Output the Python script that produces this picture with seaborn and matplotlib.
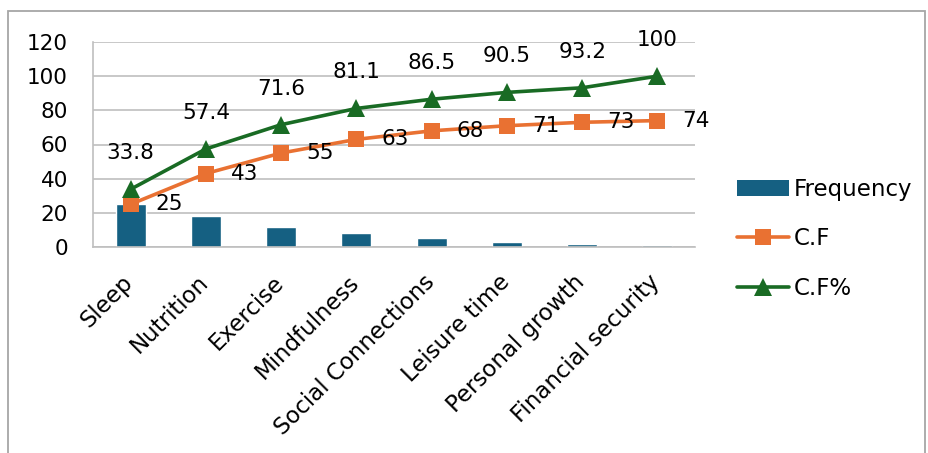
import numpy as np
import pandas as pd
import matplotlib
matplotlib.use("Agg")
import matplotlib.pyplot as plt
from matplotlib.patches import Rectangle, Patch
from matplotlib.lines import Line2D
import seaborn as sns

categories = ["Sleep", "Nutrition", "Exercise", "Mindfulness", "Social Connections",
              "Leisure time", "Personal growth", "Financial security"]
frequency = [25, 18, 12, 8, 5, 3, 2, 1]
cum_freq = [25, 43, 55, 63, 68, 71, 73, 74]
cum_pct = [33.8, 57.4, 71.6, 81.1, 86.5, 90.5, 93.2, 100]
y_ticks = [0, 20, 40, 60, 80, 100, 120]

BLUE = "#156082"
ORANGE = "#E97132"
GREEN = "#196B24"
GRID = "#BFBFBF"

sns.set_theme(style="white")
plt.rcParams["font.family"] = ["DejaVu Sans"]
plt.rcParams["text.color"] = "black"
plt.rcParams["xtick.color"] = "black"
plt.rcParams["ytick.color"] = "black"
FS_NUM = 15.5
FS_CAT = 16.5

W, H = 929, 453
fig = plt.figure(figsize=(W / 100, H / 100), dpi=100)
ax = fig.add_axes([93 / W, (H - 247) / H, (695 - 93) / W, (247 - 42) / H])

df = pd.DataFrame({"category": categories, "Frequency": frequency,
                   "CF": cum_freq, "CFP": cum_pct})
pos = np.arange(len(categories))

sns.barplot(data=df, x="category", y="Frequency", color=BLUE, width=0.4,
            saturation=1, ax=ax, zorder=2)
sns.lineplot(x=pos, y=df["CF"].values, sort=False, color=ORANGE, lw=2.6,
             marker="s", markersize=12, markeredgewidth=0, ax=ax, zorder=3)
sns.lineplot(x=pos, y=df["CFP"].values, sort=False, color=GREEN, lw=2.6,
             marker="^", markersize=13, markeredgewidth=0, ax=ax, zorder=4)

# data labels
for i, v in enumerate(cum_freq):
    ax.annotate(f"{v:g}", (pos[i], v), xytext=(28, 0), textcoords="offset points",
                ha="center", va="center", fontsize=FS_NUM, color="black", zorder=5)
for i, v in enumerate(cum_pct):
    ax.annotate(f"{v:g}", (pos[i], v), xytext=(0, 26), textcoords="offset points",
                ha="center", va="center", fontsize=FS_NUM, color="black", zorder=5,
                annotation_clip=False)

ax.set_ylim(0, 120)
ax.set_xlim(-0.5, len(categories) - 0.5)
ax.set_yticks(y_ticks)
ax.set_yticklabels([str(t) for t in y_ticks], fontsize=FS_NUM, color="black")
ax.yaxis.grid(True, color=GRID, lw=1.2, zorder=0)
ax.set_axisbelow(True)
ax.set_xlabel("")
ax.set_ylabel("")

# category labels, rotated, hanging just left of each category centre
ax.set_xticks(pos)
ax.set_xticklabels([])
for i, name in enumerate(categories):
    ax.annotate(name, (pos[i], 0), xytext=(-6.5, -17), textcoords="offset points",
                rotation=45, ha="right", va="top", rotation_mode="anchor",
                fontsize=FS_CAT, color="black", annotation_clip=False)
ax.set_xticks(np.arange(-0.5, len(categories)), minor=True)
ax.tick_params(axis="x", which="major", length=0)
ax.tick_params(axis="x", which="minor", length=7, width=1.2, color=GRID, direction="out")
ax.tick_params(axis="y", which="major", length=8, width=1.2, color=GRID,
               direction="out", pad=10)
for s in ["top", "right"]:
    ax.spines[s].set_visible(False)
for s in ["left", "bottom"]:
    ax.spines[s].set_color(GRID)
    ax.spines[s].set_linewidth(1.2)

handles = [
    Patch(facecolor=BLUE, edgecolor="none"),
    Line2D([], [], color=ORANGE, lw=2.6, marker="s", markersize=12, markeredgewidth=0),
    Line2D([], [], color=GREEN, lw=2.6, marker="^", markersize=13, markeredgewidth=0),
]
fig.legend(handles, ["Frequency", "C.F", "C.F%"], loc="upper left",
           bbox_to_anchor=(737 / W, (H - 178) / H), frameon=False, fontsize=FS_CAT,
           handlelength=2.27, handletextpad=0.2, labelspacing=1.15, borderaxespad=0,
           borderpad=0)

# chart border
fig.add_artist(Rectangle((8 / W, -0.1), (925 - 8) / W, (H - 11) / H + 0.1,
                         transform=fig.transFigure, fill=False, edgecolor="#A6A6A6",
                         lw=1.3))

fig.savefig("out.png", dpi=100)
